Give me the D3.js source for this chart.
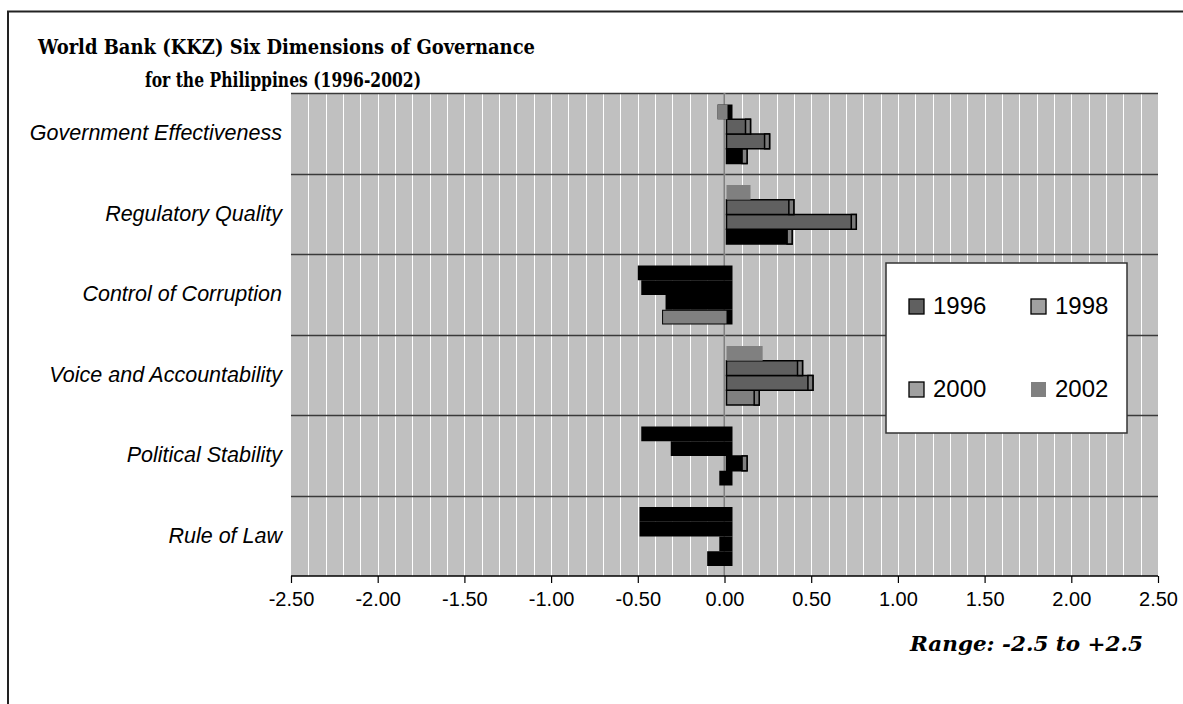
<!DOCTYPE html>
<html lang="en">
<head>
<meta charset="utf-8"/>
<script src="https://d3js.org/d3.v7.min.js"></script>
<style>
  body { margin: 0; background: #fff; }
</style>
</head>
<body>
<script>
    // Chart data
    var categories = ["Government Effectiveness", "Regulatory Quality", "Control of Corruption",
                      "Voice and Accountability", "Political Stability", "Rule of Law"];
    var years = ["1996", "1998", "2000", "2002"];
    var v1996 = [0.13, 0.39, -0.36, 0.20, -0.03, -0.10];
    var v1998 = [0.26, 0.76, -0.34, 0.51, 0.13, -0.03];
    var v2000 = [0.15, 0.40, -0.48, 0.45, -0.31, -0.49];
    var v2002 = [-0.04, 0.15, -0.50, 0.22, -0.48, -0.49];
    var tickValues = [-2.5, -2, -1.5, -1, -0.5, 0, 0.5, 1, 1.5, 2, 2.5];

    var seriesValues = {"1996": v1996, "1998": v1998, "2000": v2000, "2002": v2002};

    var width = 1183, height = 704;
    var plot = {left: 291, right: 1158, top: 93, bottom: 576};

    var svg = d3.select("body").append("svg")
        .attr("width", width)
        .attr("height", height);

    // outer chart frame (runs off the right and bottom)
    svg.append("rect")
        .attr("x", 8).attr("y", 11.5)
        .attr("width", 1300).attr("height", 800)
        .attr("fill", "#fff")
        .attr("stroke", "#222").attr("stroke-width", 2);

    var x = d3.scaleLinear().domain([-2.5, 2.5]).range([plot.left, plot.right]);
    var y = d3.scaleBand().domain(categories).range([plot.top, plot.bottom]);
    var yInner = d3.scaleBand().domain(["2002", "2000", "1998", "1996"])
        .range([11.5, 70.5]);

    // plot background
    svg.append("rect")
        .attr("x", plot.left).attr("y", plot.top)
        .attr("width", plot.right - plot.left).attr("height", plot.bottom - plot.top)
        .attr("fill", "#c0c0c0");

    // white vertical gridlines every 0.1
    svg.selectAll("line.vgrid")
        .data(d3.range(-24, 25).map(function(i) { return i / 10; }))
        .enter().append("line")
        .attr("class", "vgrid")
        .attr("x1", function(d) { return Math.round(x(d)) + 0.5; })
        .attr("x2", function(d) { return Math.round(x(d)) + 0.5; })
        .attr("y1", plot.top).attr("y2", plot.bottom)
        .attr("stroke", "#fff").attr("stroke-width", 1);

    // horizontal lines between categories
    var hLines = categories.map(function(c) { return y(c); });
    svg.selectAll("line.hgrid")
        .data(hLines)
        .enter().append("line")
        .attr("class", "hgrid")
        .attr("x1", plot.left).attr("x2", plot.right)
        .attr("y1", function(d) { return Math.round(d) + 0.5; })
        .attr("y2", function(d) { return Math.round(d) + 0.5; })
        .attr("stroke", "#3a3a3a").attr("stroke-width", 1.3);

    // zero line
    svg.append("line")
        .attr("x1", x(0)).attr("x2", x(0))
        .attr("y1", plot.top).attr("y2", plot.bottom)
        .attr("stroke", "#808080").attr("stroke-width", 2);

    // colour of each bar face, as the 3-D render shows it
    function faceColor(d) {
        if (d.cat === "Voice and Accountability" && d.year === "1996") return "#808080";
        if (d.cat === "Political Stability" && d.year === "1998") return "#000";
        if (d.cat === "Control of Corruption" && d.year === "1996") return "#808080";
        if (d.cat === "Government Effectiveness" && d.year === "2002") return "#808080";
        if (d.value < 0) return "#000";
        if (d.year === "2002") return "#808080";
        if (d.year === "1996") return "#000";
        return "#606060";
    }

    var bars = [];
    categories.forEach(function(c, i) {
        years.forEach(function(yr) {
            bars.push({cat: c, year: yr, value: seriesValues[yr][i]});
        });
    });

    var x0 = x(0);
    var g = svg.append("g");

    bars.forEach(function(d) {
        var top = y(d.cat) + yInner(d.year);
        var h = yInner.bandwidth();
        var face = faceColor(d);
        var bordered = d.year !== "2002";
        if (d.value < 0) {
            // dark depth block running past the zero line
            g.append("rect")
                .attr("x", x(d.value)).attr("y", top)
                .attr("width", x0 + 8 - x(d.value)).attr("height", h)
                .attr("fill", "#000");
            if (face !== "#000") {
                g.append("rect")
                    .attr("x", x(d.value) + (bordered ? 1 : 0)).attr("y", top + (bordered ? 1 : 0))
                    .attr("width", x0 + 3 - x(d.value) - (bordered ? 2 : 0))
                    .attr("height", h - (bordered ? 2 : 0))
                    .attr("fill", face);
            }
        } else {
            var left = x0 + 2;
            g.append("rect")
                .attr("x", left).attr("y", top)
                .attr("width", x(d.value) - left).attr("height", h)
                .attr("fill", face)
                .attr("stroke", bordered ? "#000" : "none")
                .attr("stroke-width", 1.5);
            if (bordered) {
                g.append("rect")
                    .attr("x", x(d.value) - 5).attr("y", top)
                    .attr("width", 5).attr("height", h)
                    .attr("fill", face === "#000" ? "#808080" : "#7a7a7a")
                    .attr("stroke", "#000").attr("stroke-width", 1.5);
            }
        }
    });

    // x axis (plain hyphen for minus, like the original)
    var fmt = d3.format(".2f");
    var axis = svg.append("g")
        .attr("transform", "translate(0," + plot.bottom + ")")
        .call(d3.axisBottom(x).tickValues(tickValues).tickSize(7).tickPadding(9)
            .tickFormat(function(d) { return fmt(d).replace("\u2212", "-"); }));
    axis.select(".domain").attr("stroke", "#000").attr("stroke-width", 1.5)
        .attr("d", "M" + plot.left + ",0H" + plot.right);
    axis.selectAll(".tick line").attr("stroke", "#000").attr("stroke-width", 1.2);
    axis.selectAll("text")
        .attr("font-family", "Liberation Sans, Arial, sans-serif")
        .attr("font-size", 20).attr("fill", "#000");

    // category labels
    svg.selectAll("text.cat")
        .data(categories)
        .enter().append("text")
        .attr("class", "cat")
        .attr("x", 282)
        .attr("y", function(d) { return y(d) + y.bandwidth() / 2 + 7; })
        .attr("text-anchor", "end")
        .attr("font-family", "Liberation Sans, Arial, sans-serif")
        .attr("font-style", "italic")
        .attr("font-size", 21.5)
        .text(function(d) { return d; });

    // title
    var title = svg.append("text")
        .attr("font-family", "DejaVu Serif, serif")
        .attr("font-weight", "bold")
        .attr("font-size", 20);
    title.append("tspan").attr("x", 38).attr("y", 54)
        .attr("textLength", 497).attr("lengthAdjust", "spacingAndGlyphs")
        .text("World Bank (KKZ) Six Dimensions of Governance");
    title.append("tspan").attr("x", 145).attr("y", 87)
        .attr("textLength", 276).attr("lengthAdjust", "spacingAndGlyphs")
        .text("for the Philippines (1996-2002)");

    // range note
    svg.append("text")
        .attr("x", 910).attr("y", 651)
        .attr("textLength", 233).attr("lengthAdjust", "spacingAndGlyphs")
        .attr("font-family", "DejaVu Serif, serif")
        .attr("font-weight", "bold").attr("font-style", "italic")
        .attr("font-size", 21)
        .text("Range: -2.5 to +2.5");

    // legend
    var legendColors = {"1996": "#606060", "1998": "#a0a0a0", "2000": "#a0a0a0", "2002": "#808080"};
    var legend = svg.append("g").attr("transform", "translate(886,263)");
    legend.append("rect")
        .attr("width", 241).attr("height", 170)
        .attr("fill", "#fff").attr("stroke", "#333").attr("stroke-width", 1.5);
    var items = legend.selectAll("g.item")
        .data(years)
        .enter().append("g")
        .attr("class", "item")
        .attr("transform", function(d, i) {
            return "translate(" + (i % 2 === 0 ? 23 : 145) + "," + (i < 2 ? 36 : 119) + ")";
        });
    items.append("rect")
        .attr("width", 15).attr("height", 15)
        .attr("fill", function(d) { return legendColors[d]; })
        .attr("stroke", function(d) { return d === "2002" ? "none" : "#000"; })
        .attr("stroke-width", 1.3);
    items.append("text")
        .attr("x", 24).attr("y", 15)
        .attr("font-family", "Liberation Sans, Arial, sans-serif")
        .attr("font-size", 24)
        .text(function(d) { return d; });
</script>
</body>
</html>
